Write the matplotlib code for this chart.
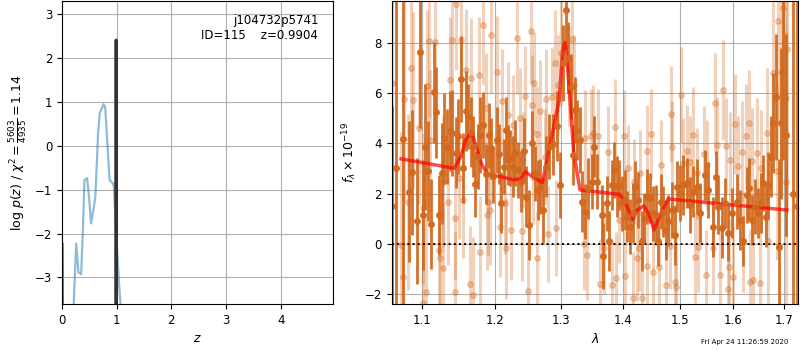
import matplotlib
matplotlib.use("Agg")
import matplotlib.pyplot as plt
from matplotlib.ticker import NullLocator

# --- redshift panel data ---
z_pz = [0.214, 0.26, 0.30, 0.35, 0.38, 0.41, 0.46, 0.50, 0.53, 0.57, 0.61,
        0.66, 0.69, 0.76, 0.79, 0.82, 0.87, 0.92, 0.95, 0.99, 1.04, 1.07]
log_pz = [-3.61, -2.23, -2.88, -2.93, -2.0, -0.78, -0.74, -1.24, -1.77, -1.5, -1.16,
          0.28, 0.74, 0.95, 0.88, 0.28, -0.78, -0.84, -0.92, -2.0, -3.07, -3.61]

z_spike = [0.0, 0.003, 0.985, 0.9904, 0.996]
log_spike = [-2.25, -3.7, -3.7, 2.41, -3.7]

ROOT, OBJ_ID, ZBEST = "j104732p5741", 115, 0.9904
CHI2_NUM, CHI2_DEN, CHI2_RED = 5603, 4935, 1.14
STAMP = "Fri Apr 24 11:26:59 2020"

# --- spectrum: binned (dark) ---
wave_b = [1.0610, 1.0660, 1.0746, 1.0824, 1.0863, 1.0928, 1.0964, 1.1008, 1.1035, 1.1074,
          1.1120, 1.1155, 1.1178, 1.1222, 1.1262, 1.1289, 1.1330, 1.1368, 1.1405, 1.1460,
          1.1483, 1.1520, 1.1552, 1.1590, 1.1627, 1.1669, 1.1692, 1.1720, 1.1763, 1.1796,
          1.1834, 1.1882, 1.1919, 1.1953, 1.1976, 1.2034, 1.2063, 1.2098, 1.2131, 1.2160,
          1.2194, 1.2229, 1.2268, 1.2293, 1.2341, 1.2392, 1.2430, 1.2466, 1.2505, 1.2550,
          1.2591, 1.2641, 1.2677, 1.2716, 1.2768, 1.2819, 1.2870, 1.2938, 1.2980, 1.3022,
          1.3070, 1.3111, 1.3149, 1.3180, 1.3217, 1.3244, 1.3297, 1.3324, 1.3377, 1.3431,
          1.3486, 1.3523, 1.3577, 1.3649, 1.3676, 1.3732, 1.3775, 1.3814, 1.3853, 1.3898,
          1.3941, 1.3982, 1.4038, 1.4077, 1.4123, 1.4169, 1.4214, 1.4265, 1.4324, 1.4364,
          1.4410, 1.4467, 1.4525, 1.4572, 1.4613, 1.4655, 1.4701, 1.4749, 1.4790, 1.4850,
          1.4915, 1.4951, 1.5001, 1.5060, 1.5122, 1.5183, 1.5244, 1.5306, 1.5367, 1.5460,
          1.5522, 1.5616, 1.5667, 1.5710, 1.5775, 1.5838, 1.5902, 1.5967, 1.6063, 1.6127,
          1.6192, 1.6259, 1.6310, 1.6357, 1.6422, 1.6487, 1.6541, 1.6587, 1.6635, 1.6687,
          1.6736, 1.6789, 1.6843, 1.6911, 1.6946, 1.6993, 1.7042, 1.7193, 1.7276]
flux_b = [1.5, 3.0, 4.17, 2.07, 2.84, 0.93, 7.62, 1.15, 3.86, 2.90,
          0.80, 6.03, 5.23, 1.15, 2.81, 4.20, 3.87, 4.49, 4.42, 3.63,
          4.27, 6.55, 3.01, 5.29, 5.06, 4.44, 3.87, 2.39, 3.47, 4.32,
          4.72, 2.78, 4.32, 3.80, 2.72, 4.13, 3.57, 1.64, 3.07, 4.53,
          3.54, 3.41, 3.07, 3.61, 2.94, 2.48, 3.71, 1.88, 0.76, 4.00,
          2.81, 2.15, 2.28, 1.35, 3.07, 3.87, 3.96, 4.69, 2.35, 7.18,
          9.30, 7.40, 6.25, 3.54, 5.33, 4.53, 4.13, 1.68, 1.29, 2.21,
          2.48, 3.87, 2.48, 1.15, -0.48, 1.62, 0.13, 2.35, 2.94, 2.28,
          2.35, 1.62, 1.75, 1.09, 0.69, 1.22, 2.28, 1.75, 0.11, 1.02,
          1.88, 1.82, 1.22, 1.15, 0.11, 1.68, 1.29, 0.56, 0.93, 1.35,
          0.36, 2.28, 2.02, 2.35, 2.42, 1.55, 2.08, 2.28, 1.22, 2.74,
          2.15, 0.67, 2.68, 1.48, 0.65, 1.62, 0.43, 1.22, 1.68, 0.96,
          0.11, 1.95, 2.21, 0.96, 1.48, 1.22, 1.62, 2.42, 1.09, 2.35,
          3.47, 4.80, 5.83, -0.11, 4.80, 6.85, 4.33, 2.0, 1.5]
err_b = [4.0, 8.0, 7.0, 2.8, 2.5, 2.5, 3.0, 2.2, 2.5, 2.0,
         1.8, 2.0, 1.8, 1.6, 2.0, 1.8, 1.5, 1.6, 1.7, 1.4,
         1.5, 1.7, 1.4, 1.6, 1.3, 1.4, 1.2, 1.3, 1.3, 1.5,
         1.3, 1.2, 1.3, 1.2, 1.1, 1.3, 1.2, 1.2, 1.1, 1.3,
         1.2, 1.1, 1.2, 1.3, 1.1, 1.2, 1.3, 1.2, 1.4, 1.3,
         1.1, 1.2, 1.1, 1.3, 1.2, 1.3, 1.2, 1.4, 1.3, 1.5,
         1.6, 1.4, 1.3, 1.2, 1.3, 1.2, 1.3, 1.2, 1.1, 1.2,
         1.1, 1.2, 1.1, 1.2, 1.3, 1.1, 1.2, 1.0, 1.1, 1.2,
         1.0, 1.1, 1.2, 1.0, 1.1, 1.2, 1.0, 1.1, 1.2, 1.0,
         1.1, 1.0, 1.1, 1.2, 1.0, 1.1, 1.0, 1.2, 1.0, 1.1,
         1.2, 1.0, 1.1, 1.2, 1.0, 1.1, 1.0, 1.1, 1.2, 1.0,
         1.1, 1.2, 1.0, 1.1, 1.2, 1.0, 1.1, 1.0, 1.1, 1.2,
         1.0, 1.1, 1.2, 1.0, 1.1, 1.0, 1.2, 1.1, 1.2, 1.3,
         1.6, 2.0, 2.5, 3.5, 3.0, 3.5, 4.0, 8.0, 9.0]

# --- spectrum: unbinned (light) ---
wave_u = [1.0603, 1.0716, 1.0746, 1.0764, 1.0811, 1.0846, 1.0876, 1.0951, 1.1004, 1.1010,
          1.1053, 1.1061, 1.1088, 1.1097, 1.1173, 1.1222, 1.1232, 1.1275, 1.1280, 1.1344,
          1.1368, 1.1394, 1.1439, 1.1445, 1.1460, 1.1492, 1.1525, 1.1555, 1.1595, 1.1645,
          1.1669, 1.1692, 1.1773, 1.1796, 1.1834, 1.1882, 1.1886, 1.1905, 1.1930, 1.1953,
          1.2034, 1.2074, 1.2113, 1.2146, 1.2170, 1.2194, 1.2232, 1.2268, 1.2324, 1.2369,
          1.2402, 1.2417, 1.2447, 1.2492, 1.2535, 1.2550, 1.2565, 1.2581, 1.2625, 1.2631,
          1.2671, 1.2747, 1.2773, 1.2797, 1.2865, 1.2906, 1.2917, 1.2954, 1.2991, 1.3124,
          1.3167, 1.3209, 1.3367, 1.3383, 1.3411, 1.3477, 1.3510, 1.3585, 1.3618, 1.3695,
          1.3751, 1.3824, 1.3879, 1.3882, 1.3935, 1.4018, 1.4040, 1.4096, 1.4169, 1.4197,
          1.4237, 1.4282, 1.4294, 1.4324, 1.4420, 1.4425, 1.4479, 1.4525, 1.4628, 1.4669,
          1.4749, 1.4819, 1.4837, 1.4850, 1.4907, 1.4937, 1.5013, 1.5060, 1.5122, 1.5183,
          1.5232, 1.5275, 1.5306, 1.5336, 1.5441, 1.5478, 1.5492, 1.5616, 1.5648, 1.5680,
          1.5743, 1.5806, 1.5857, 1.5902, 1.5921, 1.5934, 1.5998, 1.6031, 1.6095, 1.6162,
          1.6182, 1.6245, 1.6310, 1.6323, 1.6357, 1.6389, 1.6455, 1.6521, 1.6531, 1.6668,
          1.6687, 1.6776, 1.6868, 1.6888, 1.6936, 1.6989, 1.7044, 1.7050, 1.7072]
flux_u = [6.41, -0.04, -1.30, 5.76, 1.68, 6.98, 5.72, 4.60, 1.42, -2.34,
          -1.89, 6.28, 8.06, 4.13, 8.02, -0.24, -0.57, -0.97, 2.48, 1.68,
          6.52, 8.11, 1.02, -1.89, 9.52, 2.61, 8.11, 1.75, 6.92, -1.59,
          6.59, -2.02, 6.72, -0.30, 8.70, 5.39, 1.15, 1.68, 1.35, 8.30,
          6.85, 0.69, 5.66, 1.62, -0.17, 5.13, 0.56, 4.73, 8.17, 5.00,
          0.53, 3.34, 5.86, -1.87, 8.46, 5.52, 2.68, 6.41, -0.57, 4.37,
          5.30, 3.47, 5.75, 0.39, 5.83, 7.20, 0.63, 6.32, 7.60, 6.68,
          8.13, 6.32, -0.01, 4.20, -0.44, 4.27, 4.40, 4.27, -1.59, -0.17,
          3.67, -1.63, 4.66, -1.34, 0.96, 4.30, -1.27, 3.03, -2.13, 2.48,
          -0.57, -0.17, 2.81, -2.13, 3.71, -0.86, 4.36, -1.10, -0.90, 3.14,
          -1.63, -0.08, 5.17, 3.87, -1.50, -1.70, 5.92, 3.20, 3.71, 3.27,
          4.33, -0.53, 2.81, -0.11, 3.58, -1.23, 3.14, -0.17, 5.59, 3.94,
          -1.23, 6.12, 3.91, -1.79, -0.90, 3.34, -1.30, 4.77, 3.10, 3.67,
          0.11, 4.27, 4.80, -1.50, 3.31, -1.43, 3.61, -1.56, 3.01, 4.40,
          0.11, 6.78, 2.88, 8.86, 6.85, 9.37, 5.79, 2.48, 7.74]
err_u = [5.0, 4.5, 4.0, 4.0, 3.5, 3.5, 3.5, 3.0, 3.0, 3.0,
         3.0, 3.0, 3.0, 2.8, 2.8, 2.8, 2.6, 2.6, 2.6, 2.5,
         2.5, 2.6, 2.4, 2.4, 2.6, 2.4, 2.5, 2.3, 2.4, 2.3,
         2.4, 2.3, 2.3, 2.2, 2.4, 2.2, 2.2, 2.1, 2.2, 2.3,
         2.2, 2.0, 2.1, 2.0, 2.0, 2.1, 2.0, 2.0, 2.2, 2.0,
         2.0, 1.9, 2.0, 2.0, 2.1, 2.0, 1.9, 2.0, 1.9, 1.9,
         2.0, 1.9, 2.0, 1.9, 2.0, 2.1, 1.9, 2.0, 2.1, 2.0,
         2.1, 2.0, 1.8, 1.9, 1.8, 1.9, 1.9, 1.9, 1.8, 1.8,
         1.8, 1.8, 1.9, 1.8, 1.7, 1.8, 1.8, 1.7, 1.8, 1.7,
         1.7, 1.7, 1.7, 1.8, 1.8, 1.7, 1.8, 1.7, 1.7, 1.8,
         1.7, 1.7, 1.9, 1.8, 1.7, 1.7, 1.9, 1.8, 1.8, 1.8,
         1.9, 1.8, 1.8, 1.8, 1.9, 1.8, 1.8, 1.8, 2.0, 1.9,
         1.9, 2.0, 1.9, 1.9, 1.9, 1.9, 2.0, 2.0, 2.0, 2.0,
         2.0, 2.1, 2.1, 2.1, 2.1, 2.2, 2.2, 2.3, 2.3, 2.6,
         2.8, 3.2, 3.5, 4.0, 4.5, 5.0, 5.5, 6.0, 6.5]

# --- best-fit model (red) ---
wave_m = [1.072, 1.143, 1.152, 1.159, 1.167, 1.172, 1.181, 1.190, 1.208, 1.227,
          1.238, 1.245, 1.252, 1.271, 1.279, 1.297, 1.302, 1.306, 1.309, 1.314,
          1.320, 1.330, 1.395, 1.404, 1.417, 1.425, 1.436, 1.444, 1.454, 1.466,
          1.479, 1.706]
flux_m = [3.38, 3.01, 3.47, 4.13, 4.46, 4.00, 3.20, 2.74, 2.68, 2.55,
          2.58, 2.87, 2.74, 2.44, 3.47, 5.72, 7.58, 8.00, 7.44, 5.72,
          3.60, 2.15, 1.97, 1.68, 0.96, 1.35, 1.51, 1.22, 0.56, 1.22,
          1.79, 1.35]

wave_ticks = [1.1, 1.2, 1.3, 1.4, 1.5, 1.6, 1.7]

SPEC_COLOR = "#d2691e"

plt.rcParams["font.size"] = 8.5

fig = plt.figure(figsize=(8, 3.5), dpi=100)
ax1 = fig.add_axes([0.0775, 0.131, 0.339, 0.866])
ax2 = fig.add_axes([0.4896, 0.131, 0.5083, 0.866])

# left: log p(z)
ax1.plot(z_pz, log_pz, color="tab:blue", alpha=0.5, lw=1.6)
ax1.plot(z_spike, log_spike, color="0.2", lw=2.2)
ax1.set_xlim(0, 4.96)
ax1.set_ylim(-3.61, 3.30)
ax1.set_xticks([0, 1, 2, 3, 4])
ax1.set_yticks([-3, -2, -1, 0, 1, 2, 3])
ax1.grid()
ax1.set_xlabel(r"$z$", fontsize=9)
ax1.set_ylabel(r"$\log\,p(z)$ / $\chi^2=\frac{%d}{%d}=%.2f$" % (CHI2_NUM, CHI2_DEN, CHI2_RED),
               fontsize=9)
ax1.text(0.945, 0.958, "%s\nID=%d    z=%.4f" % (ROOT, OBJ_ID, ZBEST),
         transform=ax1.transAxes, ha="right", va="top", multialignment="right",
         fontsize=8.5)

# right: spectrum
ax2.errorbar(wave_u, flux_u, yerr=err_u, color=SPEC_COLOR, alpha=0.3, marker="o",
             ms=4, linestyle="None", elinewidth=2.2)
ax2.errorbar(wave_b, flux_b, yerr=err_b, color=SPEC_COLOR, alpha=0.95, marker="o",
             ms=4, linestyle="None", elinewidth=2.0)
ax2.plot(wave_m, flux_m, color="r", alpha=0.7, lw=2.5)
ax2.axhline(0, color="k", linestyle=":", lw=1.4)

ax2.set_xscale("log")
ax2.set_xlim(1.06, 1.73)
ax2.set_ylim(-2.39, 9.65)
ax2.set_xticks(wave_ticks)
ax2.set_xticklabels(["%.1f" % w for w in wave_ticks])
ax2.xaxis.set_minor_locator(NullLocator())
ax2.set_yticks([-2, 0, 2, 4, 6, 8])
ax2.grid()
ax2.set_xlabel(r"$\lambda$", fontsize=9)
ax2.set_ylabel(r"$f_\lambda\times10^{-19}$", fontsize=9)

fig.text(0.985, 0.015, STAMP, ha="right", va="bottom", fontsize=5)

fig.savefig("out.png", dpi=100)
